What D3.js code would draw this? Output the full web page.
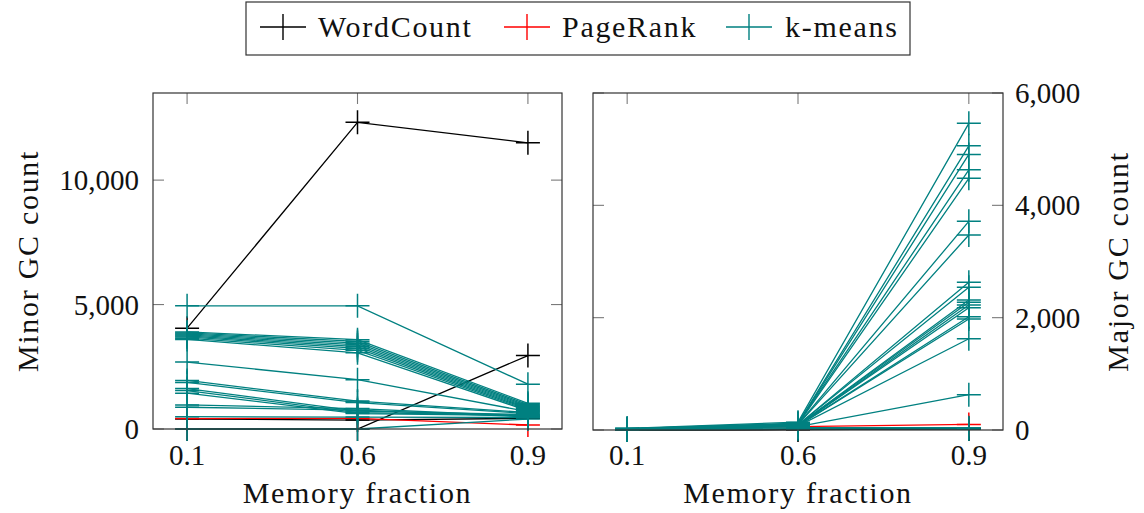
<!DOCTYPE html>
<html>
<head>
  <meta charset="utf-8">
  <script src="https://d3js.org/d3.v7.min.js"></script>
  <style>
    body { margin: 0; background: #fff; }
    svg text { font-family: "Liberation Serif", "Times New Roman", serif; fill: #111; }
    svg text.word { letter-spacing: 1.7px; }
  </style>
</head>
<body>
<script>
// memory fraction categories (symbolic x coords)
var fractions = ["0.1", "0.6", "0.9"];

// minor GC counts, one row per run
var wordCountMinor = [[4050, 12320, 11500], [0, 0, 2950], [400, 360, 430]];
var pageRankMinor = [[420, 430, 160]];
var kmeansMinor = [
  [4950, 4950, 1800],
  [3900, 3590, 1030],
  [3860, 3520, 980],
  [3820, 3450, 930],
  [3780, 3380, 890],
  [3740, 3310, 850],
  [3700, 3240, 810],
  [3650, 3160, 770],
  [3600, 3060, 730],
  [2690, 1980, 700],
  [1950, 1120, 660],
  [1870, 1060, 620],
  [1625, 720, 580],
  [1545, 660, 560],
  [1440, 620, 540],
  [967, 820, 510],
  [874, 760, 490],
  [497, 480, 460],
  [0, 0, 400]
];

// major GC counts, same runs
var wordCountMajor = [[5, 15, 30], [0, 5, 20], [2, 10, 25]];
var pageRankMajor = [[10, 60, 100]];
var kmeansMajor = [
  [30, 140, 5460],
  [25, 120, 5060],
  [25, 110, 4907],
  [20, 110, 4633],
  [20, 100, 4480],
  [20, 100, 3715],
  [20, 95, 3471],
  [15, 90, 2629],
  [15, 90, 2540],
  [15, 85, 2314],
  [15, 85, 2273],
  [10, 80, 2225],
  [10, 80, 2177],
  [10, 75, 2017],
  [10, 75, 1976],
  [10, 70, 1625],
  [5, 60, 628],
  [5, 40, 40],
  [0, 20, 20]
];

var minorTicks = [0, 5000, 10000];
var majorTicks = [0, 2000, 4000, 6000];

var W = 1144, H = 513;
var svg = d3.select("body").append("svg").attr("width", W).attr("height", H);

var fmt = d3.format(",");

function panel(opt) {
  var x = d3.scalePoint().domain(fractions).range([opt.x0, opt.x1]).padding(0.2);
  var y = d3.scaleLinear().domain(opt.domain).range([opt.y1, opt.y0]);
  var g = svg.append("g");

  // ticks, inside on all four sides
  var tk = g.append("g").attr("stroke", "#7a7a7a").attr("stroke-width", 1.1);
  fractions.forEach(function (f) {
    tk.append("line").attr("x1", x(f)).attr("x2", x(f)).attr("y1", opt.y1).attr("y2", opt.y1 - 11);
    tk.append("line").attr("x1", x(f)).attr("x2", x(f)).attr("y1", opt.y0).attr("y2", opt.y0 + 11);
  });
  opt.ticks.forEach(function (t) {
    tk.append("line").attr("x1", opt.x0).attr("x2", opt.x0 + 11).attr("y1", y(t)).attr("y2", y(t));
    tk.append("line").attr("x1", opt.x1).attr("x2", opt.x1 - 11).attr("y1", y(t)).attr("y2", y(t));
  });

  var line = d3.line().x(function (d, i) { return x(fractions[i]); }).y(function (d) { return y(d); });
  var plots = g.append("g");

  opt.series.forEach(function (s) {
    s.rows.forEach(function (row) {
      var sg = plots.append("g").attr("stroke", s.color).attr("fill", "none");
      sg.append("path").attr("d", line(row)).attr("stroke-width", 1.3);
      row.forEach(function (v, i) {
        var px = x(fractions[i]), py = y(v);
        sg.append("path").attr("stroke-width", 1.5)
          .attr("d", "M" + (px - 12) + "," + py + "H" + (px + 12) + "M" + px + "," + (py - 12) + "V" + (py + 12));
      });
    });
  });

  // frame
  g.append("rect").attr("x", opt.x0).attr("y", opt.y0)
    .attr("width", opt.x1 - opt.x0).attr("height", opt.y1 - opt.y0)
    .attr("fill", "none").attr("stroke", "#333").attr("stroke-width", 1.2);

  // x tick labels
  fractions.forEach(function (f) {
    g.append("text").attr("x", x(f)).attr("y", 465).attr("text-anchor", "middle")
      .attr("font-size", 29).text(f);
  });
  // y tick labels
  opt.ticks.forEach(function (t) {
    g.append("text")
      .attr("x", opt.labelSide === "left" ? opt.x0 - 14 : opt.x1 + 12)
      .attr("y", y(t) + 10)
      .attr("text-anchor", opt.labelSide === "left" ? "end" : "start")
      .attr("font-size", 29).text(fmt(t));
  });
  // titles
  g.append("text").attr("class", "word").attr("x", (opt.x0 + opt.x1) / 2).attr("y", 503)
    .attr("text-anchor", "middle").attr("font-size", 30).text("Memory fraction");
  g.append("text").attr("class", "word")
    .attr("transform", "translate(" + opt.titleX + "," + ((opt.y0 + opt.y1) / 2) + ") rotate(-90)")
    .attr("text-anchor", "middle").attr("font-size", 30).text(opt.title);
}

var colors = { wc: "#000000", pr: "#ff0000", km: "#008080" };

panel({
  id: "L", x0: 153, x1: 562, y0: 93, y1: 429, domain: [0, 13500], ticks: minorTicks,
  labelSide: "left", title: "Minor GC count", titleX: 38,
  series: [
    { rows: wordCountMinor, color: colors.wc },
    { rows: pageRankMinor, color: colors.pr },
    { rows: kmeansMinor, color: colors.km }
  ]
});

panel({
  id: "R", x0: 593, x1: 1003, y0: 93, y1: 430, domain: [0, 6000], ticks: majorTicks,
  labelSide: "right", title: "Major GC count", titleX: 1128,
  series: [
    { rows: wordCountMajor, color: colors.wc },
    { rows: pageRankMajor, color: colors.pr },
    { rows: kmeansMajor, color: colors.km }
  ]
});

// legend
var legendItems = [
  { name: "WordCount", color: colors.wc, x: 260, tx: 318 },
  { name: "PageRank", color: colors.pr, x: 504, tx: 562 },
  { name: "k-means", color: colors.km, x: 726, tx: 785 }
];
var lg = svg.append("g");
lg.append("rect").attr("x", 246).attr("y", 2).attr("width", 664).attr("height", 53)
  .attr("fill", "#fff").attr("stroke", "#333").attr("stroke-width", 1.2);
legendItems.forEach(function (d) {
  var cx = d.x + 23, cy = 27;
  lg.append("path").attr("stroke", d.color).attr("stroke-width", 1.4).attr("fill", "none")
    .attr("d", "M" + d.x + "," + cy + "H" + (d.x + 46) + "M" + cx + "," + (cy - 13) + "V" + (cy + 13));
  lg.append("text").attr("class", "word").attr("x", d.tx).attr("y", cy + 10)
    .attr("font-size", 30).text(d.name);
});
</script>
</body>
</html>
